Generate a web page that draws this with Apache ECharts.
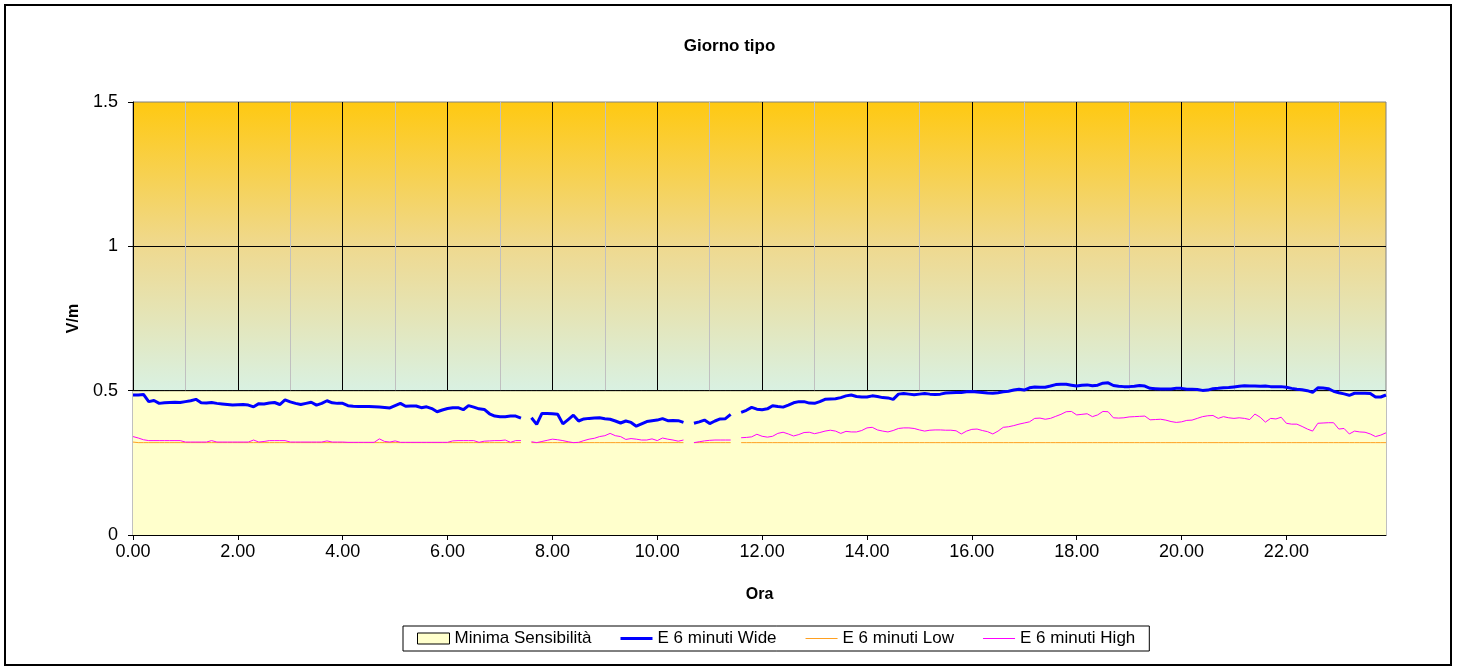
<!DOCTYPE html>
<html><head><meta charset="utf-8">
<script src="https://cdn.jsdelivr.net/npm/echarts@6/dist/echarts.min.js"></script>
<style>html,body{margin:0;padding:0;background:#fff}#c{width:1459px;height:671px}</style>
</head><body><div id="c"></div>
<script>
// Categories: 6-minute steps over the day (hours, decimal)
const hours = [];
for (let i = 0; i < 240; i++) hours.push((i / 10).toFixed(2));

const yTicks = [0, 0.5, 1, 1.5];

const minimaSensibilita = [
0.5,0.5,0.5,0.5,0.5,0.5,0.5,0.5,0.5,0.5,0.5,0.5,0.5,0.5,0.5,0.5,0.5,0.5,0.5,0.5,
0.5,0.5,0.5,0.5,0.5,0.5,0.5,0.5,0.5,0.5,0.5,0.5,0.5,0.5,0.5,0.5,0.5,0.5,0.5,0.5,
0.5,0.5,0.5,0.5,0.5,0.5,0.5,0.5,0.5,0.5,0.5,0.5,0.5,0.5,0.5,0.5,0.5,0.5,0.5,0.5,
0.5,0.5,0.5,0.5,0.5,0.5,0.5,0.5,0.5,0.5,0.5,0.5,0.5,0.5,0.5,0.5,0.5,0.5,0.5,0.5,
0.5,0.5,0.5,0.5,0.5,0.5,0.5,0.5,0.5,0.5,0.5,0.5,0.5,0.5,0.5,0.5,0.5,0.5,0.5,0.5,
0.5,0.5,0.5,0.5,0.5,0.5,0.5,0.5,0.5,0.5,0.5,0.5,0.5,0.5,0.5,0.5,0.5,0.5,0.5,0.5,
0.5,0.5,0.5,0.5,0.5,0.5,0.5,0.5,0.5,0.5,0.5,0.5,0.5,0.5,0.5,0.5,0.5,0.5,0.5,0.5,
0.5,0.5,0.5,0.5,0.5,0.5,0.5,0.5,0.5,0.5,0.5,0.5,0.5,0.5,0.5,0.5,0.5,0.5,0.5,0.5,
0.5,0.5,0.5,0.5,0.5,0.5,0.5,0.5,0.5,0.5,0.5,0.5,0.5,0.5,0.5,0.5,0.5,0.5,0.5,0.5,
0.5,0.5,0.5,0.5,0.5,0.5,0.5,0.5,0.5,0.5,0.5,0.5,0.5,0.5,0.5,0.5,0.5,0.5,0.5,0.5,
0.5,0.5,0.5,0.5,0.5,0.5,0.5,0.5,0.5,0.5,0.5,0.5,0.5,0.5,0.5,0.5,0.5,0.5,0.5,0.5,
0.5,0.5,0.5,0.5,0.5,0.5,0.5,0.5,0.5,0.5,0.5,0.5,0.5,0.5,0.5,0.5,0.5,0.5,0.5,0.5
];

const wide = [
0.485,0.485,0.487,0.462,0.466,0.456,0.458,0.459,0.460,0.459,
0.462,0.465,0.470,0.458,0.457,0.459,0.456,0.454,0.452,0.450,
0.451,0.452,0.450,0.444,0.455,0.454,0.457,0.459,0.452,0.468,
0.461,0.456,0.452,0.456,0.460,0.450,0.456,0.465,0.458,0.456,
0.456,0.448,0.446,0.445,0.445,0.445,0.444,0.443,0.442,0.440,
0.448,0.456,0.446,0.447,0.447,0.441,0.444,0.438,0.427,0.433,
0.438,0.441,0.441,0.434,0.448,0.443,0.437,0.435,0.420,0.412,
0.410,0.410,0.412,0.412,0.405,null,0.406,0.383,0.421,0.421,
0.420,0.418,0.385,0.400,0.415,0.395,0.402,0.404,0.405,0.406,
0.403,0.401,0.395,0.388,0.395,0.390,0.377,0.385,0.393,0.396,
0.398,0.403,0.396,0.397,0.396,0.390,null,0.387,0.392,0.398,
0.386,0.395,0.402,0.403,0.418,null,0.425,0.432,0.442,0.436,
0.434,0.437,0.448,0.445,0.443,0.450,0.458,0.462,0.462,0.457,
0.456,0.462,0.470,0.471,0.472,0.476,0.482,0.485,0.480,0.478,
0.478,0.482,0.480,0.476,0.475,0.470,0.488,0.490,0.488,0.486,
0.488,0.490,0.488,0.487,0.488,0.492,0.493,0.494,0.494,0.496,
0.497,0.495,0.494,0.492,0.491,0.493,0.496,0.498,0.502,0.505,
0.502,0.510,0.513,0.512,0.512,0.516,0.521,0.522,0.522,0.519,
0.516,0.519,0.520,0.517,0.519,0.526,0.527,0.518,0.515,0.514,
0.514,0.515,0.518,0.516,0.508,0.507,0.506,0.506,0.506,0.508,
0.508,0.505,0.505,0.504,0.501,0.502,0.507,0.508,0.510,0.511,
0.513,0.515,0.517,0.516,0.516,0.515,0.516,0.514,0.514,0.514,
0.512,0.508,0.505,0.503,0.500,0.494,0.510,0.509,0.507,0.498,
0.493,0.489,0.484,0.491,0.491,0.491,0.490,0.478,0.478,0.485
];

const low = [
0.322,0.32,0.32,0.32,0.32,0.32,0.32,0.32,0.32,0.32,
0.32,0.32,0.32,0.32,0.32,0.32,0.32,0.32,0.32,0.32,
0.32,0.32,0.32,0.32,0.32,0.32,0.32,0.32,0.32,0.32,
0.32,0.32,0.32,0.32,0.32,0.32,0.32,0.32,0.32,0.32,
0.32,0.32,0.32,0.32,0.32,0.32,0.32,0.32,0.32,0.32,
0.32,0.32,0.32,0.32,0.32,0.32,0.32,0.32,0.32,0.32,
0.32,0.32,0.32,0.32,0.32,0.32,0.32,0.32,0.32,0.32,
0.32,0.32,0.32,0.32,0.32,null,0.32,0.32,0.32,0.32,
0.32,0.32,0.32,0.32,0.32,0.32,0.32,0.32,0.32,0.32,
0.32,0.32,0.32,0.32,0.32,0.32,0.32,0.32,0.32,0.32,
0.32,0.32,0.32,0.32,0.32,0.32,null,0.32,0.32,0.32,
0.32,0.32,0.32,0.32,0.32,null,0.32,0.32,0.32,0.32,
0.32,0.32,0.32,0.32,0.32,0.32,0.32,0.32,0.32,0.32,
0.32,0.32,0.32,0.32,0.32,0.32,0.32,0.32,0.32,0.32,
0.32,0.32,0.32,0.32,0.32,0.32,0.32,0.32,0.32,0.32,
0.32,0.32,0.32,0.32,0.32,0.32,0.32,0.32,0.32,0.32,
0.32,0.32,0.32,0.32,0.32,0.32,0.32,0.32,0.32,0.32,
0.32,0.32,0.32,0.32,0.32,0.32,0.32,0.32,0.32,0.32,
0.32,0.32,0.32,0.32,0.32,0.32,0.32,0.32,0.32,0.32,
0.32,0.32,0.32,0.32,0.32,0.32,0.32,0.32,0.32,0.32,
0.32,0.32,0.32,0.32,0.32,0.32,0.32,0.32,0.32,0.32,
0.32,0.32,0.32,0.32,0.32,0.32,0.32,0.32,0.32,0.32,
0.32,0.32,0.32,0.32,0.32,0.32,0.32,0.32,0.32,0.32,
0.32,0.32,0.32,0.32,0.32,0.32,0.32,0.32,0.32,0.32
];

const high = [
0.341,0.336,0.330,0.327,0.327,0.327,0.327,0.327,0.327,0.327,
0.322,0.322,0.322,0.322,0.322,0.327,0.322,0.322,0.322,0.322,
0.322,0.322,0.322,0.329,0.322,0.324,0.327,0.327,0.327,0.327,
0.322,0.322,0.322,0.322,0.322,0.322,0.322,0.326,0.322,0.322,
0.322,0.321,0.321,0.321,0.321,0.321,0.321,0.333,0.324,0.322,
0.326,0.321,0.321,0.321,0.321,0.321,0.321,0.321,0.321,0.321,
0.321,0.326,0.327,0.327,0.327,0.327,0.321,0.325,0.326,0.327,
0.327,0.329,0.321,0.327,0.327,null,0.323,0.320,0.324,0.328,
0.332,0.330,0.327,0.323,0.320,0.321,0.327,0.332,0.335,0.341,
0.344,0.352,0.344,0.341,0.331,0.334,0.332,0.329,0.329,0.333,
0.327,0.336,0.332,0.329,0.325,0.329,null,0.320,0.323,0.326,
0.328,0.329,0.329,0.329,0.329,null,0.337,0.338,0.340,0.349,
0.342,0.339,0.342,0.352,0.356,0.350,0.343,0.348,0.355,0.356,
0.351,0.355,0.360,0.363,0.360,0.352,0.359,0.357,0.357,0.362,
0.371,0.373,0.364,0.360,0.357,0.362,0.369,0.371,0.371,0.369,
0.364,0.360,0.363,0.364,0.364,0.363,0.363,0.361,0.350,0.360,
0.366,0.367,0.362,0.358,0.350,0.360,0.373,0.375,0.379,0.384,
0.388,0.392,0.404,0.405,0.401,0.404,0.411,0.418,0.427,0.428,
0.416,0.418,0.420,0.410,0.416,0.428,0.427,0.406,0.405,0.406,
0.409,0.410,0.411,0.412,0.399,0.400,0.401,0.398,0.393,0.390,
0.392,0.397,0.398,0.404,0.410,0.413,0.414,0.404,0.410,0.406,
0.404,0.406,0.404,0.400,0.419,0.408,0.391,0.404,0.402,0.408,
0.387,0.384,0.384,0.376,0.367,0.360,0.387,0.388,0.389,0.389,
0.367,0.369,0.350,0.360,0.357,0.356,0.350,0.341,0.346,0.354
];

const FONT = '"Liberation Sans", Arial, sans-serif';
const chart = echarts.init(document.getElementById('c'), null, {renderer: 'canvas'});
chart.setOption({
  animation: false,
  backgroundColor: '#fff',
  title: {
    text: 'Giorno tipo', left: 'center', top: 33,
    textStyle: {fontFamily: FONT, fontSize: 17, fontWeight: 'bold', color: '#000'}
  },
  graphic: [{
    type: 'rect', silent: true, z: 100,
    shape: {x: 5, y: 5, width: 1446, height: 660},
    style: {fill: null, stroke: '#000', lineWidth: 2}
  }],
  grid: {
    left: 133, top: 102, right: 73, bottom: 136, show: true,
    backgroundColor: {
      type: 'linear', x: 0, y: 0, x2: 0, y2: 1,
      colorStops: [
        {offset: 0, color: '#FFC911'},
        {offset: 0.333, color: '#EFD98F'},
        {offset: 0.667, color: '#D9F1E2'},
        {offset: 1, color: '#D9F1E2'}
      ]
    },
    borderColor: '#808080', borderWidth: 1
  },
  legend: {
    left: 403, top: 626, orient: 'horizontal',
    borderColor: '#000', borderWidth: 1, padding: [4, 14, 4, 14],
    itemWidth: 32, itemHeight: 11, itemGap: 29, symbolKeepAspect: true,
    textStyle: {fontFamily: FONT, fontSize: 17, color: '#000'},
    data: [
      {name: 'Minima Sensibilità', icon: 'rect', itemStyle: {color: '#FFFFCC', borderColor: '#000', borderWidth: 1}},
      {name: 'E 6 minuti Wide', icon: 'path://M0,0H32V3H0Z', itemStyle: {color: '#0000FF', borderWidth: 0}},
      {name: 'E 6 minuti Low', icon: 'path://M0,0H32V1H0Z', itemStyle: {color: '#FFA020', borderWidth: 0}},
      {name: 'E 6 minuti High', icon: 'path://M0,0H32V1H0Z', itemStyle: {color: '#FF00FF', borderWidth: 0}}
    ]
  },
  xAxis: {
    type: 'category', data: hours, boundaryGap: false,
    axisLine: {lineStyle: {color: '#000', width: 1}},
    axisTick: {interval: 19, length: 5, lineStyle: {color: '#000'}},
    axisLabel: {interval: 19, color: '#000', fontSize: 18, margin: 8, fontFamily: FONT},
    splitLine: {show: true, interval: 9, lineStyle: {color: ['#000', '#C0C0C0'], width: 1}},
    name: 'Ora', nameLocation: 'middle', nameGap: 52,
    nameTextStyle: {fontFamily: FONT, fontSize: 16, fontWeight: 'bold', color: '#000'}
  },
  yAxis: {
    type: 'value', min: yTicks[0], max: yTicks[yTicks.length - 1], interval: 0.5,
    axisLine: {show: true, lineStyle: {color: '#000', width: 1}},
    axisTick: {show: true, length: 5, lineStyle: {color: '#000'}},
    axisLabel: {color: '#000', fontSize: 18, margin: 15, fontFamily: FONT},
    splitLine: {show: true, showMaxLine: false, lineStyle: {color: '#000', width: 1}},
    name: 'V/m', nameLocation: 'middle', nameGap: 51, nameRotate: 90,
    nameTextStyle: {fontFamily: FONT, fontSize: 16, fontWeight: 'bold', color: '#000'}
  },
  series: [
    {
      name: 'Minima Sensibilità', type: 'line', data: minimaSensibilita,
      symbol: 'none', lineStyle: {color: '#000', width: 1},
      itemStyle: {color: '#FFFFCC'},
      areaStyle: {color: '#FFFFCC', opacity: 1}, z: 2
    },
    {
      name: 'E 6 minuti Wide', type: 'line', data: wide, symbol: 'none',
      lineStyle: {color: '#0000FF', width: 3}, itemStyle: {color: '#0000FF'}, z: 5
    },
    {
      name: 'E 6 minuti Low', type: 'line', data: low, symbol: 'none',
      lineStyle: {color: '#FFA020', width: 1}, itemStyle: {color: '#FFA020'}, z: 3
    },
    {
      name: 'E 6 minuti High', type: 'line', data: high, symbol: 'none',
      lineStyle: {color: '#FF00FF', width: 1}, itemStyle: {color: '#FF00FF'}, z: 4
    }
  ]
});
</script>
</body></html>
